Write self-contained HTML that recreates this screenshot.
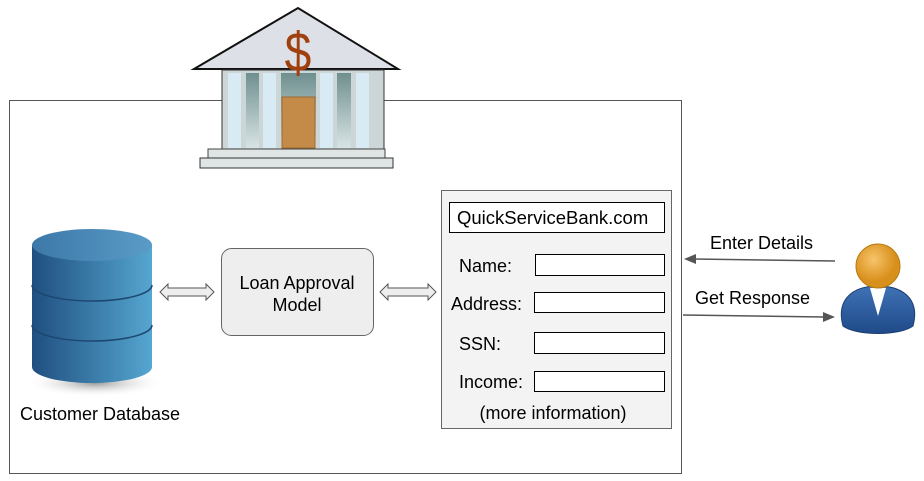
<!DOCTYPE html>
<html><head><style>html,body{margin:0;padding:0;background:#fff}svg{display:block}</style></head>
<body>
<svg width="924" height="481" viewBox="0 0 924 481" xmlns="http://www.w3.org/2000/svg" font-family="Liberation Sans, sans-serif">
<defs>
<linearGradient id="cyl" x1="0" x2="1"><stop offset="0" stop-color="#1f4f80"/><stop offset="1" stop-color="#55a6d0"/></linearGradient>
<linearGradient id="top" x1="0" x2="1"><stop offset="0" stop-color="#3c78a8"/><stop offset="1" stop-color="#5a9cc8"/></linearGradient>
<radialGradient id="sh"><stop offset="0" stop-color="#999"/><stop offset="1" stop-color="#fff" stop-opacity="0"/></radialGradient>
<linearGradient id="col" x1="0" y1="0" x2="0" y2="1"><stop offset="0" stop-color="#6f8f8f"/><stop offset="1" stop-color="#d8e4e4"/></linearGradient>
<radialGradient id="head" cx="0.4" cy="0.35"><stop offset="0" stop-color="#f7c46a"/><stop offset="1" stop-color="#d8901c"/></radialGradient>
<linearGradient id="body" x1="0" y1="0" x2="0" y2="1"><stop offset="0" stop-color="#3f72b5"/><stop offset="1" stop-color="#1f4a8a"/></linearGradient>
</defs>
<rect x="9.5" y="100.5" width="672" height="373" fill="#fff" stroke="#555"/>
<!-- bank -->
<rect x="222" y="68" width="160" height="82" fill="#fff"/>
<polygon points="194,69 298,8 398,69" fill="#dde0e6" stroke="#111" stroke-width="2"/>
<rect x="222" y="70" width="162" height="80" fill="#ccd6d6" stroke="#333" stroke-width="1"/>
<rect x="228" y="73" width="13" height="75" fill="#d8eaf4"/>
<rect x="246" y="73" width="13" height="75" fill="url(#col)"/>
<rect x="263" y="73" width="13" height="75" fill="#d8eaf4"/>
<rect x="281" y="73" width="35" height="75" fill="url(#col)"/>
<rect x="282" y="97" width="33" height="51" fill="#c48a48" stroke="#9a6a30"/>
<rect x="320" y="73" width="13" height="75" fill="#d8eaf4"/>
<rect x="337" y="73" width="14" height="75" fill="url(#col)"/>
<rect x="356" y="73" width="13" height="75" fill="#d8eaf4"/>
<rect x="208" y="149" width="177" height="10" fill="#dfe5e5" stroke="#444"/>
<rect x="200" y="158" width="193" height="10" fill="#dfe5e5" stroke="#333"/>
<line x1="298" y1="60" x2="298" y2="76" stroke="#a0400f" stroke-width="2.5"/>
<text x="298" y="62" font-size="48" fill="#a0400f" text-anchor="middle" transform="translate(298 0) scale(1 1.15) translate(-298 0)">$</text>
<!-- cylinder -->
<ellipse cx="95" cy="383" rx="70" ry="14" fill="url(#sh)"/>
<path d="M32,245 V367 A60,16 0 0 0 152,367 V245 Z" fill="url(#cyl)"/>
<path d="M32,285 A60,16 0 0 0 152,285 M32,325 A60,16 0 0 0 152,325" fill="none" stroke="#1d4670" stroke-width="1.5"/>
<ellipse cx="92" cy="245" rx="60" ry="16" fill="url(#top)"/>
<text x="100" y="420" font-size="18" text-anchor="middle" fill="#000">Customer Database</text>
<!-- arrows -->
<polygon points="160,292 168,284 168,288 206,288 206,284 214,292 206,300 206,296 168,296 168,300" fill="#eee" stroke="#555"/>
<polygon points="380,292 388,284 388,288 428,288 428,284 436,292 428,300 428,296 388,296 388,300" fill="#eee" stroke="#555"/>
<!-- loan box -->
<rect x="221.5" y="248.5" width="152" height="87" rx="10" fill="#eee" stroke="#666"/>
<text x="297" y="289" font-size="18" text-anchor="middle">Loan Approval</text>
<text x="297" y="311" font-size="18" text-anchor="middle">Model</text>
<!-- form -->
<rect x="441.5" y="190.5" width="230" height="238" fill="#f3f3f3" stroke="#666"/>
<rect x="449.5" y="202.5" width="215" height="30" fill="#fff" stroke="#000"/>
<text x="457" y="224" font-size="18.5">QuickServiceBank.com</text>
<g font-size="18">
<text x="459" y="272">Name:</text><rect x="535.5" y="254.5" width="129" height="21" fill="#fff" stroke="#000"/>
<text x="451" y="310">Address:</text><rect x="534.5" y="292.5" width="130" height="20" fill="#fff" stroke="#000"/>
<text x="459" y="350">SSN:</text><rect x="534.5" y="332.5" width="130" height="21" fill="#fff" stroke="#000"/>
<text x="459" y="388">Income:</text><rect x="534.5" y="371.5" width="130" height="20" fill="#fff" stroke="#000"/>
<text x="553" y="419" text-anchor="middle">(more information)</text>
<text x="710" y="249">Enter Details</text>
<text x="695" y="304">Get Response</text>
</g>
<line x1="835" y1="261" x2="694" y2="259" stroke="#555" stroke-width="1.5"/>
<polygon points="684,259 696,254 696,264" fill="#555"/>
<line x1="683" y1="315" x2="824" y2="317" stroke="#555" stroke-width="1.5"/>
<polygon points="835,317 823,312 823,322" fill="#555"/>
<!-- person -->
<path d="M843,326 C836,300 852,286 878,286 C904,286 920,300 913,326 C900,336 856,336 843,326 Z" fill="url(#body)" stroke="#1c3f70"/>
<polygon points="870,288 886,288 878,316" fill="#fff"/>
<circle cx="878" cy="266" r="22" fill="url(#head)" stroke="#b87a10"/>
</svg>
</body></html>
